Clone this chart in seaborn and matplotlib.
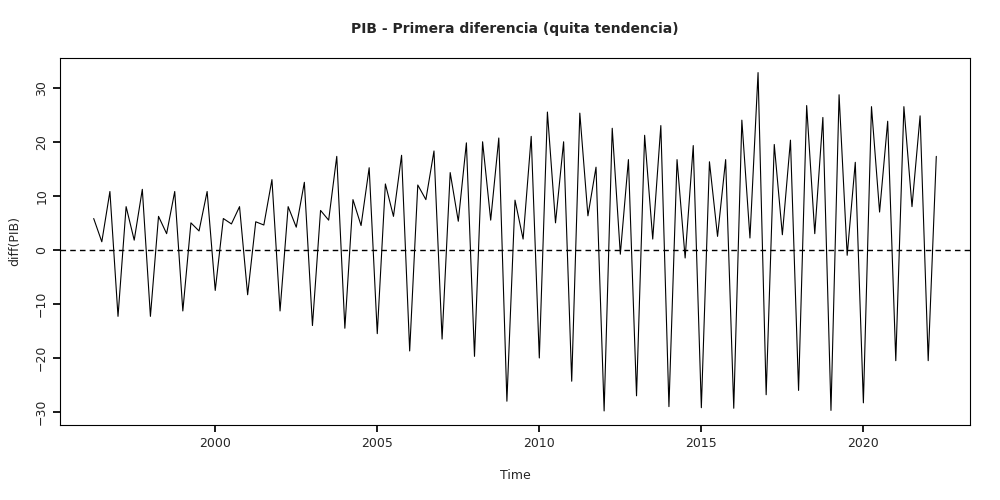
import numpy as np
import pandas as pd
import matplotlib
matplotlib.use("Agg")
import matplotlib.pyplot as plt
import seaborn as sns

# quarterly first differences, starting 1996 Q2
diff_pib = [
    5.8, 1.5, 10.8,
    -12.3, 8, 1.8, 11.2,
    -12.3, 6.2, 3, 10.8,
    -11.3, 5, 3.5, 10.8,
    -7.5, 5.8, 4.8, 8,
    -8.3, 5.2, 4.6, 13,
    -11.3, 8, 4.2, 12.5,
    -14, 7.3, 5.5, 17.3,
    -14.5, 9.3, 4.5, 15.2,
    -15.5, 12.2, 6.2, 17.5,
    -18.7, 12, 9.3, 18.3,
    -16.5, 14.3, 5.3, 19.8,
    -19.7, 20, 5.5, 20.7,
    -28, 9.2, 2, 21,
    -20, 25.5, 5, 20,
    -24.3, 25.3, 6.3, 15.3,
    -29.8, 22.5, -0.8, 16.7,
    -27, 21.2, 2, 23,
    -29, 16.7, -1.5, 19.3,
    -29.2, 16.3, 2.5, 16.7,
    -29.3, 24, 2.2, 32.8,
    -26.8, 19.5, 2.8, 20.3,
    -26, 26.7, 3, 24.5,
    -29.7, 28.7, -1, 16.2,
    -28.3, 26.5, 7, 23.8,
    -20.5, 26.5, 8, 24.8,
    -20.5, 17.3,
]
start_year = 1996.25
time = start_year + np.arange(len(diff_pib)) / 4

df = pd.DataFrame({"Time": time, "diff": diff_pib})

sns.set_theme(style="white")
plt.rcParams['font.family'] = ['DejaVu Sans']

fig = plt.figure(figsize=(10, 5), dpi=100)
ax = fig.add_axes([0.06, 0.15, 0.91, 0.734])
sns.lineplot(data=df, x="Time", y="diff", color="black", linewidth=0.8, ax=ax)
ax.axhline(0, color="black", linestyle="--", linewidth=1, dashes=(4, 3))

ax.set_xlim(1995.21, 2023.29)
ax.set_ylim(-32.4, 35.5)
ax.set_xticks([2000, 2005, 2010, 2015, 2020])
ax.set_yticks([-30, -20, -10, 0, 10, 20, 30])
for lab in ax.get_yticklabels():
    lab.set_rotation(90)
    lab.set_va("center")
ax.tick_params(axis="both", labelsize=9, length=5, direction="out", bottom=True, left=True, color="black")
for s in ax.spines.values():
    s.set_color("black")
    s.set_linewidth(0.8)
ax.set_xlabel("Time", fontsize=9, labelpad=14)
ax.set_ylabel("diff(PIB)", fontsize=9, labelpad=10)
ax.set_title("PIB - Primera diferencia (quita tendencia)", fontsize=10, fontweight="bold", pad=18)

fig.savefig("out.png", dpi=100)
